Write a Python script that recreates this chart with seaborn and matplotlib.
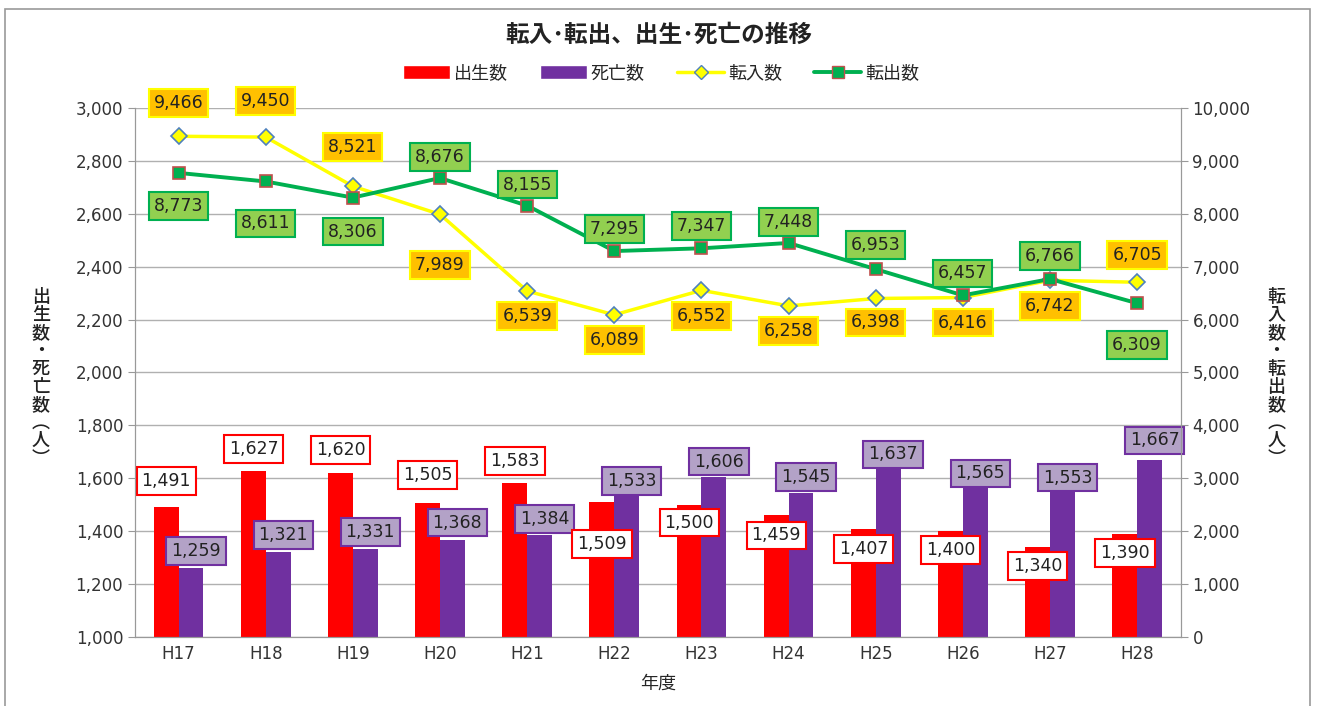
import numpy as np
import pandas as pd
import matplotlib
matplotlib.use("Agg")
import matplotlib.pyplot as plt
import seaborn as sns
from matplotlib.lines import Line2D
from matplotlib.patches import Patch, Rectangle
from matplotlib.ticker import FuncFormatter, MultipleLocator

years = ["H17", "H18", "H19", "H20", "H21", "H22", "H23", "H24", "H25", "H26", "H27", "H28"]
births = [1491, 1627, 1620, 1505, 1583, 1509, 1500, 1459, 1407, 1400, 1340, 1390]
deaths = [1259, 1321, 1331, 1368, 1384, 1533, 1606, 1545, 1637, 1565, 1553, 1667]
moved_in = [9466, 9450, 8521, 7989, 6539, 6089, 6552, 6258, 6398, 6416, 6742, 6705]
moved_out = [8773, 8611, 8306, 8676, 8155, 7295, 7347, 7448, 6953, 6457, 6766, 6309]

# label offsets from the point, in pixels (+ above, - below)
births_off = [26, 22, 23, 28, 22, -42, -18, -20, -20, -19, -19, -19]
deaths_off = [17, 17, 17, 17, 16, 15, 15, 16, 14, 14, 13, 20]
in_off = [33, 36, 39, -51, -25, -25, -26, -25, -24, -25, -26, 27]
out_off = [-33, -42, -34, 21, 21, 22, 22, 21, 24, 22, 23, -42]

RED = "#ff0000"
PURPLE = "#7030a0"
YELLOW = "#ffff00"
GREEN = "#00b050"

sns.set_style("white")
plt.rcParams["font.family"] = ["DejaVu Sans", "Noto Sans CJK JP"]
cjk = ["Noto Sans CJK JP", "DejaVu Sans"]
num = ["DejaVu Sans"]

DPI = 100
fig = plt.figure(figsize=(13.17, 7.06), dpi=DPI)
ax = fig.add_axes([0.1025, 0.098, 0.794, 0.749])

df = pd.DataFrame({"年度": years * 2,
                   "人数": births + deaths,
                   "区分": ["出生数"] * len(years) + ["死亡数"] * len(years)})
sns.barplot(data=df, x="年度", y="人数", hue="区分",
            palette=[RED, PURPLE], width=0.57, saturation=1, linewidth=0,
            edgecolor="none", legend=False, ax=ax)
ax.set_ylim(1000, 3000)
ax.set_xlim(-0.5, len(years) - 0.5)
ax.yaxis.set_major_locator(MultipleLocator(200))
ax.yaxis.set_major_formatter(FuncFormatter(lambda v, p: f"{int(v):,}"))
ax.grid(axis="y", color="#b0b0b0", lw=1)
ax.set_axisbelow(True)
ax.set_xlabel("年度", fontsize=13, family=cjk, labelpad=8)
ax.set_ylabel("")
ax.tick_params(axis="both", labelsize=12, colors="#333333")
ax.tick_params(axis="x", length=0, pad=6)
ax.set_xticks(np.arange(-0.5, len(years)), minor=True)
ax.tick_params(axis="x", which="minor", length=5, color="#999999", direction="out")
ax.tick_params(axis="y", length=5, color="#999999", direction="out", left=True)
for s in ["left", "bottom", "right"]:
    ax.spines[s].set_color("#999999")
ax.spines["top"].set_visible(False)

ax2 = ax.twinx()
x = np.arange(len(years))
sns.lineplot(x=x, y=moved_in, color=YELLOW, lw=2.5, marker="D", markersize=8,
             markerfacecolor=YELLOW, markeredgecolor="#4f81bd", markeredgewidth=1.2,
             ax=ax2, zorder=3)
sns.lineplot(x=x, y=moved_out, color=GREEN, lw=2.8, marker="s", markersize=9,
             markerfacecolor=GREEN, markeredgecolor="#c0504d", markeredgewidth=1.2,
             ax=ax2, zorder=4)
ax2.set_ylim(0, 10000)
ax2.yaxis.set_major_locator(MultipleLocator(1000))
ax2.yaxis.set_major_formatter(FuncFormatter(lambda v, p: f"{int(v):,}"))
ax2.tick_params(axis="y", labelsize=12, colors="#333333", length=5, direction="out", right=True)
ax2.tick_params(axis="y", color="#999999")
for s in ["left", "bottom", "right"]:
    ax2.spines[s].set_color("#999999")
ax2.spines["top"].set_visible(False)

for lbl in ax.get_yticklabels() + ax.get_xticklabels() + ax2.get_yticklabels():
    lbl.set_fontfamily(num)


def px2pt(v):
    return v * 72 / DPI


def box_label(axis, xv, yv, off, face, edge):
    axis.annotate(f"{yv:,}", (xv, yv), xytext=(0, px2pt(off)), textcoords="offset points",
                  ha="center", va="center", fontsize=12.5, family=num, color="#222222",
                  zorder=6, bbox=dict(boxstyle="square,pad=0.28", fc=face, ec=edge, lw=1.5))


for i in range(len(years)):
    box_label(ax, i - 0.14, births[i], births_off[i], "white", RED)
    box_label(ax, i + 0.2, deaths[i], deaths_off[i], "#b3a2c7", PURPLE)
    box_label(ax2, i, moved_in[i], in_off[i], "#ffc000", YELLOW)
    box_label(ax2, i, moved_out[i], out_off[i], "#92d050", GREEN)

# vertical axis titles
fig.text(0.031, 0.465, "出\n生\n数\n・\n死\n亡\n数\n︵\n人\n︶", family=cjk, fontsize=13,
         fontweight="medium", ha="center", va="center", linespacing=1.0, color="#222222")
fig.text(0.969, 0.465, "転\n入\n数\n・\n転\n出\n数\n︵\n人\n︶", family=cjk, fontsize=13,
         fontweight="medium", ha="center", va="center", linespacing=1.0, color="#222222")

fig.text(0.5, 0.95, "転入･転出、出生･死亡の推移", family=cjk, fontsize=17,
         fontweight="bold", ha="center", va="center", color="#222222")

handles = [
    Patch(facecolor=RED, label="出生数"),
    Patch(facecolor=PURPLE, label="死亡数"),
    Line2D([], [], color=YELLOW, lw=2.5, marker="D", markersize=7,
           markerfacecolor=YELLOW, markeredgecolor="#4f81bd", label="転入数"),
    Line2D([], [], color=GREEN, lw=2.8, marker="s", markersize=8,
           markerfacecolor=GREEN, markeredgecolor="#c0504d", label="転出数"),
]
fig.legend(handles=handles, loc="center", bbox_to_anchor=(0.502, 0.896), ncol=4,
           frameon=False, prop={"family": cjk, "size": 13}, handlelength=2.6,
           handleheight=0.8, columnspacing=1.8, handletextpad=0.2)

fig.patches.append(Rectangle((0.004, -0.01), 0.991, 0.997, transform=fig.transFigure,
                             fill=False, edgecolor="#999999", lw=1.2))

fig.savefig("out.png", dpi=DPI)
